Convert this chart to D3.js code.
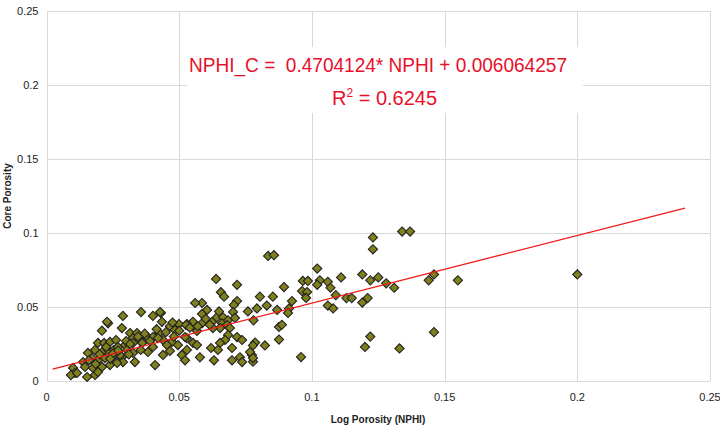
<!DOCTYPE html>
<html>
<head>
<meta charset="utf-8">
<script src="https://cdn.jsdelivr.net/npm/d3@7"></script>
<style>
  body { margin: 0; background: #fff; }
  svg { display: block; font-family: "Liberation Sans", Arial, sans-serif; }
  .grid line { stroke: #d9d9d9; stroke-width: 1; shape-rendering: crispEdges; }
  .tick-label { font-size: 11px; fill: #222; }
  .axis-title { font-size: 10px; font-weight: bold; fill: #222; }
  .eq { fill: #e8102a; font-size: 20px; white-space: pre; }
</style>
</head>
<body>
<svg id="chart"></svg>
<script>
// Core porosity vs log porosity (NPHI) scatter with trend line

const xTicks = [0, 0.05, 0.1, 0.15, 0.2, 0.25];
const yTicks = [0, 0.05, 0.1, 0.15, 0.2, 0.25];

// NPHI (log porosity) values
const nphi = [
    0.200, 0.155, 0.134, 0.137, 0.131, 0.144, 0.146, 0.146, 0.133, 0.123,
    0.123, 0.102, 0.103, 0.102, 0.106, 0.107, 0.111, 0.119, 0.122, 0.125,
    0.128, 0.109, 0.113, 0.115, 0.119, 0.121, 0.106, 0.108, 0.122, 0.120,
    0.0966, 0.0985, 0.0963, 0.0982, 0.0978, 0.0959,
    0.0835, 0.0857, 0.0895, 0.0925, 0.0853, 0.0804, 0.0793, 0.0830, 0.0869, 0.0914,
    0.0910, 0.0780, 0.0876, 0.0887, 0.0876, 0.0786, 0.0823, 0.0778, 0.0774, 0.0778,
    0.0639, 0.0718, 0.0657, 0.0669, 0.0586, 0.0718, 0.0706, 0.0605, 0.0586, 0.0703,
    0.0759, 0.0552, 0.0529, 0.0586, 0.0624, 0.0642, 0.0665, 0.0661, 0.0684, 0.0710,
    0.0680, 0.0691, 0.0654, 0.0627, 0.0567, 0.0529, 0.0684, 0.0673, 0.0718, 0.0737,
    0.0654, 0.0552, 0.0567, 0.0620, 0.0646, 0.0699, 0.0529, 0.0578, 0.0631, 0.0699,
    0.0729, 0.0767, 0.0737, 0.0778, 0.0560,
    0.0356, 0.0401, 0.0431, 0.0435, 0.0288, 0.0284, 0.0315, 0.0341, 0.0326, 0.0352,
    0.0379, 0.0401, 0.0424, 0.0465, 0.0499, 0.0526, 0.0484, 0.0522, 0.0439, 0.0473,
    0.0296, 0.0326, 0.0360, 0.0401, 0.0454, 0.0495, 0.0303, 0.0326, 0.0284, 0.0382,
    0.0439, 0.0465, 0.0510, 0.0522, 0.0333, 0.0409, 0.0288, 0.0428,
    0.0232, 0.0209, 0.0194, 0.0217, 0.0239, 0.0262, 0.0156, 0.0183, 0.0209, 0.0232,
    0.0254, 0.0269, 0.0171, 0.0194, 0.0220, 0.0247, 0.0277, 0.0138, 0.0145, 0.0175,
    0.0209, 0.0239, 0.0266, 0.0100, 0.0107, 0.0153, 0.0183, 0.0194, 0.0092, 0.0115,
    0.0228,
    0.0200, 0.0225, 0.0250, 0.0270, 0.0300, 0.0315, 0.0345, 0.0370, 0.0390, 0.0420,
    0.0450, 0.0480, 0.0500, 0.0540, 0.0570, 0.0600, 0.0615, 0.0650, 0.0160, 0.0185,
    0.0240, 0.0310, 0.0355, 0.0415, 0.0475
];

// Core porosity values, same order
const corePhi = [
    0.072, 0.068, 0.101, 0.101, 0.063, 0.068, 0.072, 0.033, 0.022, 0.097,
    0.089, 0.076, 0.068, 0.065, 0.067, 0.063, 0.070, 0.072, 0.068, 0.070,
    0.066, 0.058, 0.056, 0.056, 0.053, 0.056, 0.051, 0.049, 0.030, 0.023,
    0.0676, 0.0676, 0.0608, 0.0601, 0.0561, 0.0162,
    0.0845, 0.0850, 0.0635, 0.0540, 0.0570, 0.0570, 0.0490, 0.0510, 0.0480, 0.0490,
    0.0460, 0.0410, 0.0365, 0.0380, 0.0280, 0.0260, 0.0240, 0.0240, 0.0176, 0.0130,
    0.0690, 0.0650, 0.0600, 0.0570, 0.0527, 0.0540, 0.0514, 0.0480, 0.0453, 0.0466,
    0.0470, 0.0400, 0.0385, 0.0390, 0.0400, 0.0430, 0.0430, 0.0390, 0.0410, 0.0426,
    0.0378, 0.0358, 0.0358, 0.0358, 0.0338, 0.0290, 0.0310, 0.0277, 0.0297, 0.0277,
    0.0257, 0.0257, 0.0243, 0.0223, 0.0210, 0.0223, 0.0210, 0.0160, 0.0140, 0.0140,
    0.0160, 0.0196, 0.0128, 0.0155, 0.0527,
    0.0466, 0.0440, 0.0460, 0.0400, 0.0440, 0.0358, 0.0324, 0.0324, 0.0290, 0.0284,
    0.0297, 0.0297, 0.0324, 0.0370, 0.0385, 0.0378, 0.0345, 0.0297, 0.0277, 0.0264,
    0.0243, 0.0257, 0.0257, 0.0230, 0.0243, 0.0243, 0.0210, 0.0190, 0.0160, 0.0196,
    0.0176, 0.0203, 0.0176, 0.0140, 0.0128, 0.0108, 0.0128, 0.0466,
    0.0390, 0.0340, 0.0257, 0.0257, 0.0264, 0.0277, 0.0190, 0.0210, 0.0196, 0.0210,
    0.0210, 0.0230, 0.0155, 0.0140, 0.0155, 0.0160, 0.0176, 0.0128, 0.0095, 0.0088,
    0.0095, 0.0108, 0.0122, 0.0088, 0.0054, 0.0027, 0.0041, 0.0061, 0.0040, 0.0054,
    0.0400,
    0.0180, 0.0230, 0.0185, 0.0205, 0.0270, 0.0250, 0.0300, 0.0320, 0.0270, 0.0290,
    0.0330, 0.0300, 0.0340, 0.0360, 0.0370, 0.0420, 0.0380, 0.0470, 0.0140, 0.0115,
    0.0150, 0.0180, 0.0210, 0.0350, 0.0395
];

// trend line as drawn (end points on the NPHI axis, slope and intercept)
const trendRange = [0.0023, 0.2406];
const trendSlope = 0.4566;
const trendIntercept = 0.0070;

const eqLine1 = 'NPHI_C =  0.4704124* NPHI + 0.006064257';
const eqR2 = '0.6245';
const xTitle = 'Log Porosity (NPHI)';
const yTitle = 'Core Porosity';

const W = 720, H = 432;
const margin = { top: 11, right: 10, bottom: 51, left: 46.5 };

const svg = d3.select('#chart').attr('width', W).attr('height', H);

const x = d3.scaleLinear().domain([0, 0.25]).range([margin.left, 710]);
const y = d3.scaleLinear().domain([0, 0.25]).range([381, margin.top]);

// grid
const grid = svg.append('g').attr('class', 'grid');
grid.selectAll('line.h')
    .data(yTicks)
    .join('line')
    .attr('class', 'h')
    .attr('x1', x(0)).attr('x2', x(0.25))
    .attr('y1', d => Math.round(y(d)) + 0.5).attr('y2', d => Math.round(y(d)) + 0.5);
grid.selectAll('line.v')
    .data(xTicks)
    .join('line')
    .attr('class', 'v')
    .attr('y1', y(0)).attr('y2', y(0.25))
    .attr('x1', d => Math.round(x(d)) + 0.5).attr('x2', d => Math.round(x(d)) + 0.5);

// tick labels
svg.append('g').selectAll('text')
    .data(yTicks)
    .join('text')
    .attr('class', 'tick-label')
    .attr('x', x(0) - 8)
    .attr('y', d => y(d))
    .attr('dy', '0.35em')
    .attr('text-anchor', 'end')
    .text(d => d3.format('~g')(d));

svg.append('g').selectAll('text')
    .data(xTicks)
    .join('text')
    .attr('class', 'tick-label')
    .attr('x', d => x(d))
    .attr('y', y(0) + 20)
    .attr('text-anchor', 'middle')
    .text(d => d3.format('~g')(d));

// axis titles
svg.append('text')
    .attr('class', 'axis-title')
    .attr('x', 378)
    .attr('y', 423)
    .attr('text-anchor', 'middle')
    .text(xTitle);

svg.append('text')
    .attr('class', 'axis-title')
    .attr('transform', 'translate(11,196) rotate(-90)')
    .attr('text-anchor', 'middle')
    .text(yTitle);

// equation box
svg.append('rect')
    .attr('x', 187).attr('y', 47)
    .attr('width', 396).attr('height', 66)
    .attr('fill', '#fff');

svg.append('text')
    .attr('class', 'eq')
    .attr('x', 189)
    .attr('y', 72)
    .attr('textLength', 378)
    .attr('lengthAdjust', 'spacingAndGlyphs')
    .text(eqLine1);

const r2 = svg.append('text')
    .attr('class', 'eq')
    .attr('x', 332)
    .attr('y', 105);
r2.append('tspan').text('R');
r2.append('tspan').attr('dy', -8).attr('font-size', 12).text('2');
r2.append('tspan').attr('dy', 8).text(' = ' + eqR2);

// points
const points = nphi.map((v, i) => ({ x: v, y: corePhi[i] }));
const diamond = d3.symbol().type(d3.symbolSquare).size(42);

svg.append('g')
    .selectAll('path')
    .data(points)
    .join('path')
    .attr('d', diamond)
    .attr('transform', d => `translate(${x(d.x)},${y(d.y)}) rotate(45)`)
    .attr('fill', '#7f7f1c')
    .attr('stroke', '#222')
    .attr('stroke-width', 1.1);

// trend line on top of the markers
const line = d3.line()
    .x(d => x(d))
    .y(d => y(trendIntercept + trendSlope * d));

svg.append('path')
    .datum(trendRange)
    .attr('d', line)
    .attr('fill', 'none')
    .attr('stroke', '#f01a1a')
    .attr('stroke-width', 1.3);
</script>
</body>
</html>
